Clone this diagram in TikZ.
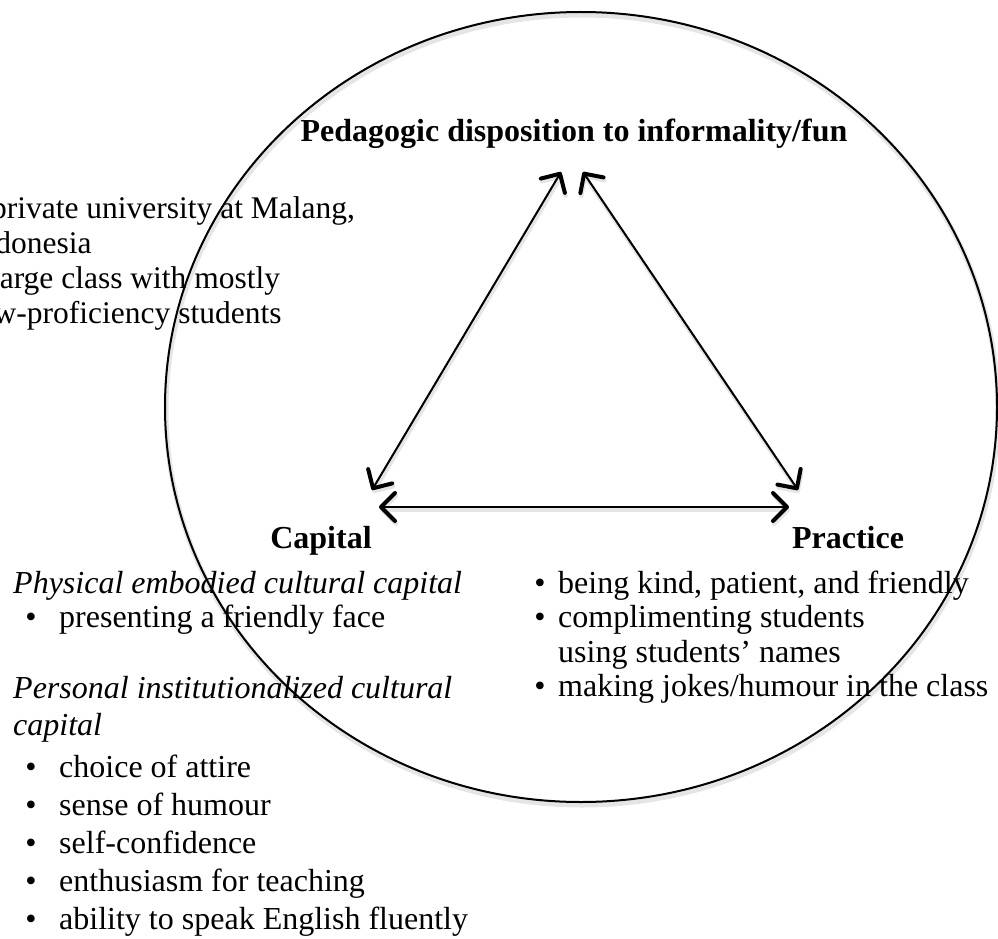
\documentclass[tikz,border=0pt]{standalone}
\usepackage{fontspec}
\setmainfont{Liberation Serif}
\usetikzlibrary{arrows.meta}
\begin{document}
\begin{tikzpicture}[x=1pt,y=-1pt,
  body/.style={inner sep=0pt, anchor=base west, font=\fontsize{32}{36}\selectfont},
  note/.style={body, font=\fontsize{31.5}{35}\selectfont},
  sub/.style={body, font=\fontsize{32}{36}\selectfont\itshape},
  head/.style={inner sep=0pt, anchor=base, font=\fontsize{32}{36}\selectfont\bfseries},
  dot/.style={inner sep=0pt, anchor=base, font=\fontsize{32}{36}\selectfont},
  barb/.tip={Straight Barb[length=14pt,width=28pt,line width=4pt,round]},
  link/.style={line width=2pt, barb-barb},
  halo/.style={draw=black!10, line width=5pt},
]
\useasboundingbox (0,0) rectangle (998,939);
\clip (0,0) rectangle (998,939);

% end points of the three double-headed arrows
\coordinate (pedL) at (561,172);
\coordinate (pedR) at (583,172);
\coordinate (capU) at (372,490);
\coordinate (praU) at (798,490);
\coordinate (capR) at (379,507);
\coordinate (praL) at (789,507);

% soft shadow under the ellipse and the arrows
\draw[halo] (582,410) ellipse [x radius=416pt, y radius=395pt];
\draw[link, draw=black!10, line width=4pt] ([shift={(1,3)}]pedL) -- ([shift={(1,3)}]capU);
\draw[link, draw=black!10, line width=4pt] ([shift={(1,3)}]pedR) -- ([shift={(1,3)}]praU);
\draw[link, draw=black!10, line width=4pt] ([shift={(1,3)}]capR) -- ([shift={(1,3)}]praL);

% context notes, running off the left edge
\node[note] (ctx1) at (-31,218) {a private university at Malang,};
\node[note] (ctx2) at (-31,253) {Indonesia};
\node[note] (ctx3) at (-31,288) {a large class with mostly};
\node[note] (ctx4) at (-31,323) {low-proficiency students};

% enclosing ellipse
\draw[line width=2pt] (581,407) ellipse [x radius=416pt, y radius=395pt];

% headings
\node[head] (ped) at (574,142) {Pedagogic disposition to informality/fun};
\node[head] (cap) at (321,548) {Capital};
\node[head] (pra) at (848,548) {Practice};

% arrows between the three corners
\draw[link] (pedL) -- (capU);
\draw[link] (pedR) -- (praU);
\draw[link] (capR) -- (praL);

% capital list
\node[sub]  (c1)  at (13,593) {Physical embodied cultural capital};
\node[dot]  (c2b) at (31,627) {•};
\node[body] (c2)  at (59,627) {presenting a friendly face};
\node[sub]  (c3)  at (13,698) {Personal institutionalized cultural};
\node[sub]  (c4)  at (13,735) {capital};
\node[dot]  (c5b) at (31,777) {•};
\node[body] (c5)  at (59,777) {choice of attire};
\node[dot]  (c6b) at (31,815) {•};
\node[body] (c6)  at (59,815) {sense of humour};
\node[dot]  (c7b) at (31,853) {•};
\node[body] (c7)  at (59,853) {self-confidence};
\node[dot]  (c8b) at (31,891) {•};
\node[body] (c8)  at (59,891) {enthusiasm for teaching};
\node[dot]  (c9b) at (31,929) {•};
\node[body] (c9)  at (59,929) {ability to speak English fluently};

% practice list
\node[dot]  (p1b) at (540,593) {•};
\node[body] (p1)  at (558,593) {being kind, patient, and friendly};
\node[dot]  (p2b) at (540,627) {•};
\node[body] (p2)  at (558,627) {complimenting students};
\node[body] (p3)  at (558,662) {using students’ names};
\node[dot]  (p4b) at (540,696) {•};
\node[body] (p4)  at (558,696) {making jokes/humour in the class};
\end{tikzpicture}
\end{document}
